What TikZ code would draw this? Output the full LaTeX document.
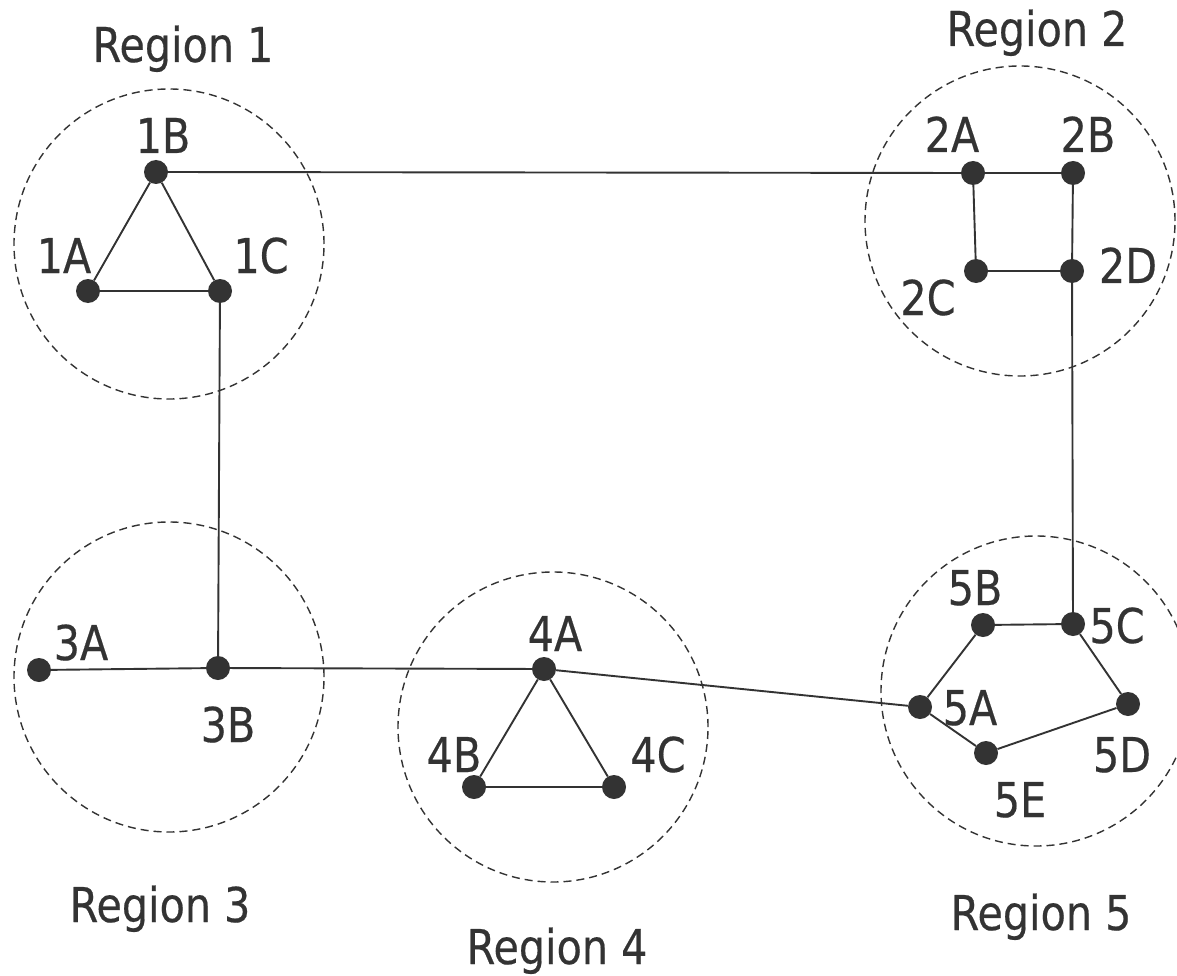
\documentclass[tikz,border=0pt]{standalone}
\usepackage{fontspec}
\setmainfont{DejaVu Sans}[FakeStretch=0.86,FakeBold=0.4]
\definecolor{ink}{HTML}{333333}
\tikzset{
  dot/.style={circle, fill=ink, draw=none, minimum size=24pt, inner sep=0pt},
  edge/.style={draw=ink, line width=1.9pt},
  region/.style={circle, draw=ink, line width=1.4pt, dash pattern=on 8pt off 5pt, minimum size=310pt, inner sep=0pt},
  lbl/.style={anchor=base, inner sep=0pt, text=ink, font=\fontsize{48}{58}\selectfont}
}
\begin{document}
\begin{tikzpicture}[x=1pt,y=-1pt]
\useasboundingbox (0,0) rectangle (1177,976);
\clip (0,0) rectangle (1177,976);
\fill[white] (0,0) rectangle (1177,976);
% regions
\node[region] (r1) at (169,244) {};
\node[region] (r2) at (1020,221) {};
\node[region] (r3) at (169,677) {};
\node[region] (r4) at (553,727) {};
\node[region] (r5) at (1036,691) {};
% dots
\node[dot] (1A) at (88,291) {};
\node[dot] (1B) at (156,172) {};
\node[dot] (1C) at (220,291) {};
\node[dot] (2A) at (973,173) {};
\node[dot] (2B) at (1073,173) {};
\node[dot] (2C) at (976,271) {};
\node[dot] (2D) at (1072,271) {};
\node[dot] (3A) at (39,670) {};
\node[dot] (3B) at (218,668) {};
\node[dot] (4A) at (544,669) {};
\node[dot] (4B) at (474,787) {};
\node[dot] (4C) at (614,787) {};
\node[dot] (5A) at (920,707) {};
\node[dot] (5B) at (983,625) {};
\node[dot] (5C) at (1073,624) {};
\node[dot] (5D) at (1128,704) {};
\node[dot] (5E) at (986,753) {};
% edges
\draw[edge] (1B) -- (2A);
\draw[edge] (1B) -- (1A);
\draw[edge] (1B) -- (1C);
\draw[edge] (1A) -- (1C);
\draw[edge] (1C) -- (3B);
\draw[edge] (2A) -- (2B);
\draw[edge] (2A) -- (2C);
\draw[edge] (2C) -- (2D);
\draw[edge] (2B) -- (2D);
\draw[edge] (2D) -- (5C);
\draw[edge] (3A) -- (3B);
\draw[edge] (3B) -- (4A);
\draw[edge] (4A) -- (4B);
\draw[edge] (4A) -- (4C);
\draw[edge] (4B) -- (4C);
\draw[edge] (4A) -- (5A);
\draw[edge] (5A) -- (5B);
\draw[edge] (5B) -- (5C);
\draw[edge] (5C) -- (5D);
\draw[edge] (5D) -- (5E);
\draw[edge] (5E) -- (5A);
% labels
\node[lbl] (t1) at (183,62) {Region 1};
\node[lbl] (t2) at (1037,46) {Region 2};
\node[lbl] (t3) at (160,922) {Region 3};
\node[lbl] (t4) at (557,964) {Region 4};
\node[lbl] (t5) at (1041,930) {Region 5};
\node[lbl] (l1A) at (64,273) {1A};
\node[lbl] (l1B) at (163,153) {1B};
\node[lbl] (l1C) at (261,273) {1C};
\node[lbl] (l2A) at (952,152) {2A};
\node[lbl] (l2B) at (1088,152) {2B};
\node[lbl] (l2C) at (928,315) {2C};
\node[lbl] (l2D) at (1128,283) {2D};
\node[lbl] (l3A) at (81,660) {3A};
\node[lbl] (l3B) at (228,742) {3B};
\node[lbl] (l4A) at (555,651) {4A};
\node[lbl] (l4B) at (454,772) {4B};
\node[lbl] (l4C) at (658,772) {4C};
\node[lbl] (l5A) at (970,725) {5A};
\node[lbl] (l5B) at (975,605) {5B};
\node[lbl] (l5C) at (1117,643) {5C};
\node[lbl] (l5D) at (1122,772) {5D};
\node[lbl] (l5E) at (1020,817) {5E};
\end{tikzpicture}
\end{document}
